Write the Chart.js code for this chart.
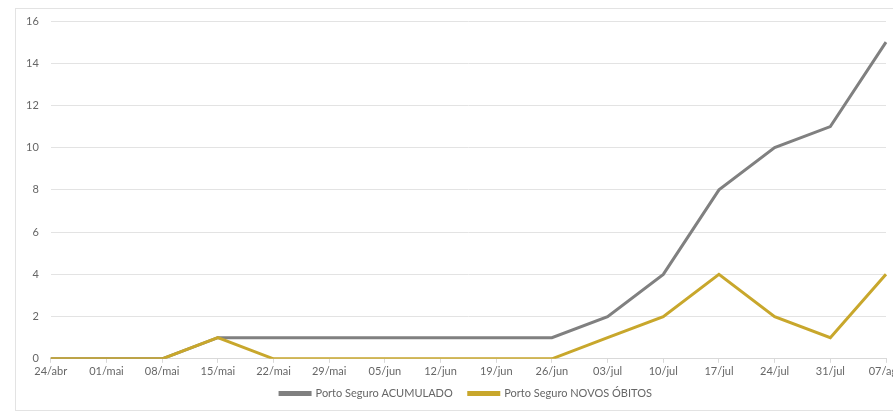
<!DOCTYPE html>
<html>
<head>
<meta charset="utf-8">
<script src="https://cdn.jsdelivr.net/npm/chart.js@4.4.1/dist/chart.umd.min.js"></script>
<style>
  html, body { margin: 0; padding: 0; background: #fff; overflow: hidden; width: 893px; height: 413px; }
  #frame { position: absolute; left: 15px; top: 8px; width: 940px; height: 403px; border: 1px solid #e3e3e3; box-sizing: border-box; }
  #wrap { position: absolute; left: 0; top: 0; width: 908px; height: 413px; }
</style>
</head>
<body>
<div id="frame"></div>
<div id="wrap"><canvas id="c"></canvas></div>
<script>
// Weekly dates (day/month, pt-BR)
const semanas = ['24/abr','01/mai','08/mai','15/mai','22/mai','29/mai','05/jun','12/jun','19/jun','26/jun','03/jul','10/jul','17/jul','24/jul','31/jul','07/ago'];
// Accumulated deaths
const acumulado = [0,0,0,1,1,1,1,1,1,1,2,4,8,10,11,15];
// New deaths per week
const novosObitos = [0,0,0,1,0,0,0,0,0,0,1,2,4,2,1,4];
const yTicks = [0,2,4,6,8,10,12,14,16];

const corCinza = '#808080';
const corOuro = '#c8a72c';
const fonte = { family: 'Lato, "Open Sans", sans-serif', size: 11 };

// Wider gap between legend items (without making the legend box taller),
// and the legend centred a little to the right of the canvas centre.
const legendSpacing = {
  id: 'legendSpacing',
  afterLayout(chart, args, opts) {
    const lg = chart.legend;
    if (!lg || !lg.lineWidths) return;
    const base = lg.options.labels.padding;
    const extra = opts.gap - base;
    const labels = Object.assign({}, lg.options.labels, { padding: opts.gap });
    lg.options = Object.assign({}, lg.options, { labels });
    lg.lineWidths = lg.lineWidths.map(w => w + extra * lg.legendItems.length);
    lg.top -= extra;
    lg.left += opts.shift;
    lg.right += opts.shift;
  }
};

new Chart(document.getElementById('c'), {
  type: 'line',
  data: {
    labels: semanas,
    datasets: [
      { label: 'Porto Seguro ACUMULADO', data: acumulado, borderColor: corCinza, backgroundColor: corCinza,
        borderWidth: 3, pointRadius: 0, tension: 0, order: 2 },
      { label: 'Porto Seguro NOVOS ÓBITOS', data: novosObitos, borderColor: corOuro, backgroundColor: corOuro,
        borderWidth: 3, pointRadius: 0, tension: 0, order: 1 }
    ]
  },
  options: {
    responsive: true,
    maintainAspectRatio: false,
    animation: false,
    layout: { padding: { left: 14, top: 21, right: 22, bottom: 4 } },
    scales: {
      x: {
        offset: false,
        grid: { drawOnChartArea: false, drawTicks: true, tickLength: 4, color: '#d9d9d9' },
        border: { display: true, color: '#d9d9d9' },
        ticks: { font: fonte, color: '#666', maxRotation: 0, autoSkip: false, padding: 2 }
      },
      y: {
        min: 0, max: 16,
        afterBuildTicks: s => { s.ticks = yTicks.map(v => ({ value: v })); },
        grid: { color: '#e3e3e3', drawTicks: false },
        border: { display: false },
        ticks: { font: fonte, color: '#666', padding: 12 }
      }
    },
    plugins: {
      legend: {
        position: 'bottom',
        labels: { font: fonte, color: '#666', boxWidth: 30, boxHeight: 2, padding: 8,
                  sort: (a, b) => a.datasetIndex - b.datasetIndex }
      },
      legendSpacing: { gap: 16, shift: 16 },
      tooltip: { enabled: false }
    }
  },
  plugins: [legendSpacing]
});
</script>
</body>
</html>
